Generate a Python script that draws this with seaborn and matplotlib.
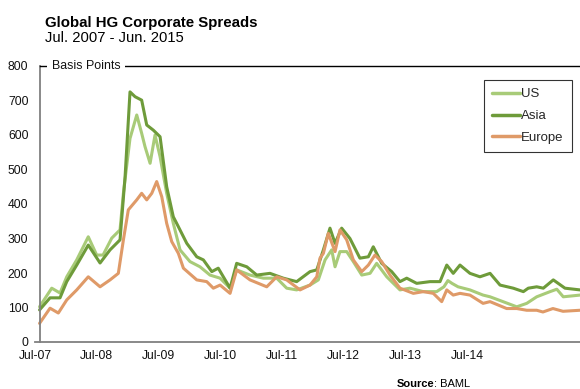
import matplotlib
matplotlib.use("Agg")
import matplotlib.pyplot as plt
import pandas as pd
import seaborn as sns

# ---- data (weeks since start of Jul-2007, spreads in basis points) ----
us_week = [0, 9.4, 15.8, 21, 28.7, 37.6, 44.1, 49, 55.7, 62.1, 64.7, 69.8, 75, 78.8, 81.4,
           85.3, 89.1, 93, 98.1, 103.2, 108.4, 116.1, 123.8, 131.5, 139.3, 147, 152.1, 162.4,
           172.7, 183, 190.7, 198.4, 208.7, 215.1, 220.3, 225.4, 228, 231.8, 237, 242.1, 248.6,
           255, 260.1, 267.9, 278.1, 285.8, 296.1, 306.4, 312, 315.1, 318.2, 322.9, 332.1, 342.2,
           347.6, 357.6, 368.2, 375.9, 383.6, 393.9, 399.1, 404.1, 417]
us_bp = [102, 156, 142, 189, 238, 305, 252, 252, 301, 325, 431, 590, 658, 605, 566,
         518, 600, 537, 431, 344, 267, 233, 218, 194, 185, 156, 209, 194,
         185, 185, 156, 151, 165, 180, 238, 267, 218, 262, 262, 233, 194,
         199, 228, 189, 151, 156, 146, 146, 160, 178, 170, 160, 151, 136,
         131, 117, 102, 112, 131, 146, 153, 131, 136]

asia_week = [0, 8.1, 15.8, 21, 28.7, 37.6, 46.7, 54.4, 62.1, 66, 69.8, 73.7, 78.8, 82.7, 87.8,
             93, 98.1, 103.2, 105.8, 113.6, 121.3, 126.4, 132.9, 137.9, 147, 152.1, 159.9,
             167.6, 177.8, 188.1, 198.4, 208.7, 213.9, 219, 224.1, 228, 233.1, 239.5, 247.2,
             253.7, 257.5, 264, 271.7, 278.1, 283.3, 291, 301.3, 309, 314.2, 319.2, 324.4,
             332.1, 339.8, 347.6, 355.3, 365.5, 373.3, 377.1, 383.6, 388.7, 396.4, 405.4, 417]
asia_bp = [93, 128, 128, 175, 223, 281, 229, 267, 296, 479, 725, 711, 701, 629, 614,
           595, 450, 363, 344, 286, 247, 238, 204, 214, 156, 228, 218,
           194, 199, 185, 175, 204, 209, 267, 330, 286, 330, 300, 243,
           247, 276, 228, 204, 175, 185, 170, 175, 175, 223, 199, 223,
           199, 189, 199, 165, 156, 146, 156, 160, 156, 180, 156, 151]

eu_week = [0, 8.1, 14.5, 21, 28.7, 37.6, 46.7, 54.4, 60.8, 64.7, 68.5, 75, 78.8, 82.7, 86.6,
           90.4, 94.3, 98.1, 102, 107.1, 111, 121.3, 129, 134.1, 139.3, 147, 152.1, 162.4,
           175.3, 183, 190.7, 201, 208.7, 213.9, 216.4, 219, 222.8, 228, 231.8, 237, 242.1,
           248.6, 253.7, 258.8, 264, 270.4, 278.1, 288.4, 296.1, 303.8, 310.3, 314.2, 319.2,
           324.4, 332.1, 342.2, 347.6, 360.4, 368.2, 375.9, 383.6, 388.4, 396.1, 403.9, 417]
eu_bp = [54, 98, 84, 122, 151, 189, 160, 180, 199, 296, 383, 412, 431, 412, 431,
         465, 421, 344, 291, 257, 214, 180, 175, 156, 165, 141, 209, 180,
         160, 189, 180, 151, 165, 189, 243, 257, 315, 262, 325, 296, 238,
         204, 223, 252, 233, 194, 156, 141, 146, 141, 117, 151, 136,
         141, 136, 112, 117, 97, 97, 92, 92, 87, 97, 89, 92]

regions = ["US", "Asia", "Europe"]
colors = ["#A8CB78", "#6E9B3A", "#DF9A68"]
tick_weeks = [-3.5, 44.1, 91.7, 139.3, 186.9, 234.5, 282.1, 329.7]
tick_labels = ["Jul-07", "Jul-08", "Jul-09", "Jul-10", "Jul-11", "Jul-12", "Jul-13", "Jul-14"]
y_ticks = [0, 100, 200, 300, 400, 500, 600, 700, 800]

title = "Global HG Corporate Spreads"
subtitle = "Jul. 2007 - Jun. 2015"
unit_label = "Basis Points"

# ---- build long table ----
df = pd.concat([
    pd.DataFrame({"week": us_week, "bp": us_bp, "region": "US"}),
    pd.DataFrame({"week": asia_week, "bp": asia_bp, "region": "Asia"}),
    pd.DataFrame({"week": eu_week, "bp": eu_bp, "region": "Europe"}),
], ignore_index=True)

sns.set_theme(style="white")
plt.rcParams["font.family"] = ["Liberation Sans", "DejaVu Sans"]

W, H = 580, 389
fig = plt.figure(figsize=(W / 100, H / 100), dpi=100)
ax = fig.add_axes([35 / W, 47 / H, 545 / W, 276 / H])

sns.lineplot(data=df, x="week", y="bp", hue="region", hue_order=regions,
             palette=dict(zip(regions, colors)), linewidth=2.2,
             estimator=None, sort=False, ax=ax)

ax.set_xlim(-3.5, 417)
ax.set_ylim(0, 800)
ax.set_xlabel("")
ax.set_ylabel("")
ax.set_xticks(tick_weeks)
ax.set_xticklabels(tick_labels)
ax.set_yticks(y_ticks)
ax.tick_params(axis="both", length=0, labelsize=8.7, colors="#111111")
ax.tick_params(axis="y", pad=8)
ax.tick_params(axis="x", pad=6)

ax.spines["left"].set_position(("data", 0))
ax.spines["right"].set_visible(False)
ax.spines["top"].set_bounds(0, 417)
ax.spines["top"].set_color("black")
ax.spines["top"].set_linewidth(1.0)
for s in ["left", "bottom"]:
    ax.spines[s].set_color("#808080")
    ax.spines[s].set_linewidth(1.3)

handles, labels = ax.get_legend_handles_labels()
leg = ax.legend(handles, labels, loc="upper right",
                bbox_to_anchor=((572 - 35) / 545, (342 - 80) / 276),
                borderaxespad=0, frameon=True, fancybox=False,
                fontsize=9.5, handlelength=2.1, handletextpad=0.1,
                labelspacing=0.72, borderpad=0.62)
leg.get_frame().set_edgecolor("black")
leg.get_frame().set_linewidth(0.8)
for lh in leg.get_lines():
    lh.set_linewidth(2.5)

fig.text(52 / W, 1 - 66 / H, unit_label, fontsize=8.9, va="center", ha="left",
         color="#111111",
         bbox=dict(facecolor="white", edgecolor="none", pad=3.5), zorder=5)

fig.text(45 / W, 1 - 27 / H, title, fontsize=10.8, fontweight="bold",
         va="baseline", ha="left", color="black")
fig.text(45 / W, 1 - 42 / H, subtitle, fontsize=10.6,
         va="baseline", ha="left", color="black")

fig.text(397 / W, 1 - 387 / H, "Source", fontsize=8, fontweight="bold",
         va="baseline", ha="left", color="black")
fig.text(434 / W, 1 - 387 / H, ": BAML", fontsize=8,
         va="baseline", ha="left", color="black")

fig.savefig("out.png", dpi=100)
